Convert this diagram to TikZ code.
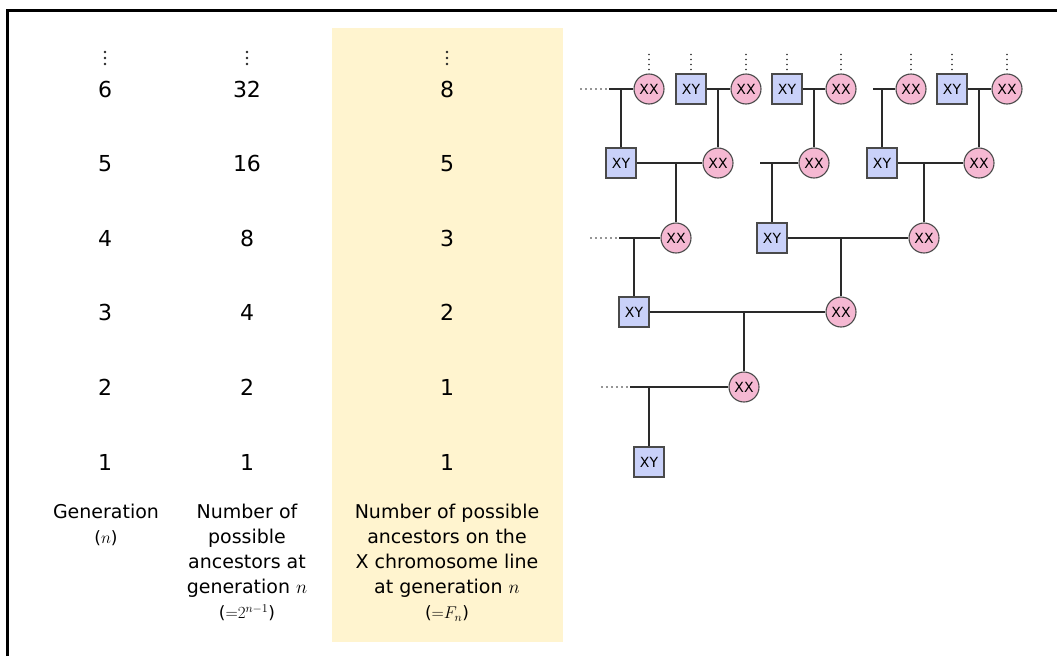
\RequirePackage{fix-cm}
\documentclass[tikz,border=0pt]{standalone}
\usepackage{fontspec}
\setmainfont{DejaVu Sans}
\usetikzlibrary{calc}
\definecolor{band}{HTML}{FFF4CF}
\definecolor{xxfill}{HTML}{F5B8D2}
\definecolor{xyfill}{HTML}{C9D1F9}
\definecolor{edge}{HTML}{4A4A4A}
\definecolor{wire}{HTML}{2A2A2A}
\tikzset{
  xx/.style={circle,draw=edge,line width=1.1pt,fill=xxfill,minimum size=30pt,inner sep=0pt,font=\fontsize{14}{14}\selectfont},
  xy/.style={rectangle,draw=edge,line width=1.1pt,fill=xyfill,minimum size=30pt,inner sep=0pt,font=\fontsize{14}{14}\selectfont},
  wireline/.style={draw=wire,line width=1.8pt},
  dotline/.style={draw=wire,line width=1.8pt,line cap=round,dash pattern=on 0pt off 5pt},
  num/.style={anchor=base,inner sep=0pt,font=\fontsize{22}{26}\selectfont},
  captext/.style={anchor=north,inner sep=0pt,align=center,font=\fontsize{19}{25}\selectfont},
  vdot/.style={fill=black!85,circle,inner sep=0pt,minimum size=2.6pt}
}
\newcommand{\mydots}[1]{%
  \node[vdot] at (#1,52) {};
  \node[vdot] at (#1,58) {};
  \node[vdot] at (#1,64) {};}
\newcommand{\smallline}[1]{{\fontsize{17}{25}\selectfont #1}}
\begin{document}
\begin{tikzpicture}[x=1pt,y=-1pt]
\useasboundingbox (0,0) rectangle (1057,656);
% frame
\draw[line width=3pt] (7,656) -- (7,10) -- (1057,10);
% band
\fill[band] (332,28) rectangle (563,642);
% column dots
\mydots{105}
\mydots{247}
\mydots{447}
% numbers
\foreach \r/\a/\b/\c in {0/6/32/8,1/5/16/5,2/4/8/3,3/3/4/2,4/2/2/1,5/1/1/1}{
  \node[num] (ga\r) at (105,97+74.6*\r) {\a};
  \node[num] (gb\r) at (247,97+74.6*\r) {\b};
  \node[num] (gc\r) at (447,97+74.6*\r) {\c};
}
% captions
\node[captext] (cap1) at (106,504) {Generation\\\smallline{($n$)}};
\node[captext] (cap2) at (247,504) {Number of\\possible\\ancestors at\\generation $n$\\\smallline{(${=}2^{n-1}$)}};
\node[captext] (cap3) at (447,504) {Number of possible\\ancestors on the\\X chromosome line\\at generation $n$\\\smallline{(${=}F_n$)}};
% pedigree nodes
\node[xx] (c61) at (649,89) {XX};
\node[xy] (s61) at (691,89) {XY};
\node[xx] (c62) at (746,89) {XX};
\node[xy] (s62) at (787,89) {XY};
\node[xx] (c63) at (841,89) {XX};
\node[xx] (c64) at (911,89) {XX};
\node[xy] (s63) at (952,89) {XY};
\node[xx] (c65) at (1007,89) {XX};
\node[xy] (s51) at (621,163) {XY};
\node[xx] (c51) at (718,163) {XX};
\node[xx] (c52) at (814,163) {XX};
\node[xy] (s52) at (882,163) {XY};
\node[xx] (c53) at (979,163) {XX};
\node[xx] (c41) at (676,238) {XX};
\node[xy] (s41) at (772,238) {XY};
\node[xx] (c42) at (924,238) {XX};
\node[xy] (s31) at (634,312) {XY};
\node[xx] (c31) at (841,312) {XX};
\node[xx] (c21) at (744,387) {XX};
\node[xy] (s11) at (649,462) {XY};
% dotted continuations upward
\foreach \n in {c61,s61,c62,s62,c63,c64,s63,c65}{
  \draw[dotline] ($(\n.north)+(0,-4)$) -- ($(\n.north)+(0,-23)$);
}
% free ends
\coordinate (d6) at (581,89);  \coordinate (h6) at (609,89);
\coordinate (h6b) at (873,89);
\coordinate (h5) at (760,163);
\coordinate (d4) at (591,238); \coordinate (h4) at (619,238);
\coordinate (d2) at (602,387); \coordinate (h2) at (630,387);
% generation 6 -> 5
\draw[dotline] (d6) -- (h6);
\draw[wireline] (h6) -- (c61.west);
\draw[wireline] (s51.north) -- (s51 |- c61);
\draw[wireline] (s61.east) -- (c62.west);
\draw[wireline] (c51.north) -- (c51 |- c62);
\draw[wireline] (s62.east) -- (c63.west);
\draw[wireline] (c52.north) -- (c52 |- c63);
\draw[wireline] (h6b) -- (c64.west);
\draw[wireline] (s52.north) -- (s52 |- c64);
\draw[wireline] (s63.east) -- (c65.west);
\draw[wireline] (c53.north) -- (c53 |- c65);
% generation 5 -> 4
\draw[wireline] (s51.east) -- (c51.west);
\draw[wireline] (c41.north) -- (c41 |- c51);
\draw[wireline] (h5) -- (c52.west);
\draw[wireline] (s41.north) -- (s41 |- c52);
\draw[wireline] (s52.east) -- (c53.west);
\draw[wireline] (c42.north) -- (c42 |- c53);
% generation 4 -> 3
\draw[dotline] (d4) -- (h4);
\draw[wireline] (h4) -- (c41.west);
\draw[wireline] (s31.north) -- (s31 |- c41);
\draw[wireline] (s41.east) -- (c42.west);
\draw[wireline] (c31.north) -- (c31 |- c42);
% generation 3 -> 2
\draw[wireline] (s31.east) -- (c31.west);
\draw[wireline] (c21.north) -- (c21 |- c31);
% generation 2 -> 1
\draw[dotline] (d2) -- (h2);
\draw[wireline] (h2) -- (c21.west);
\draw[wireline] (s11.north) -- (s11 |- c21);
\end{tikzpicture}
\end{document}
